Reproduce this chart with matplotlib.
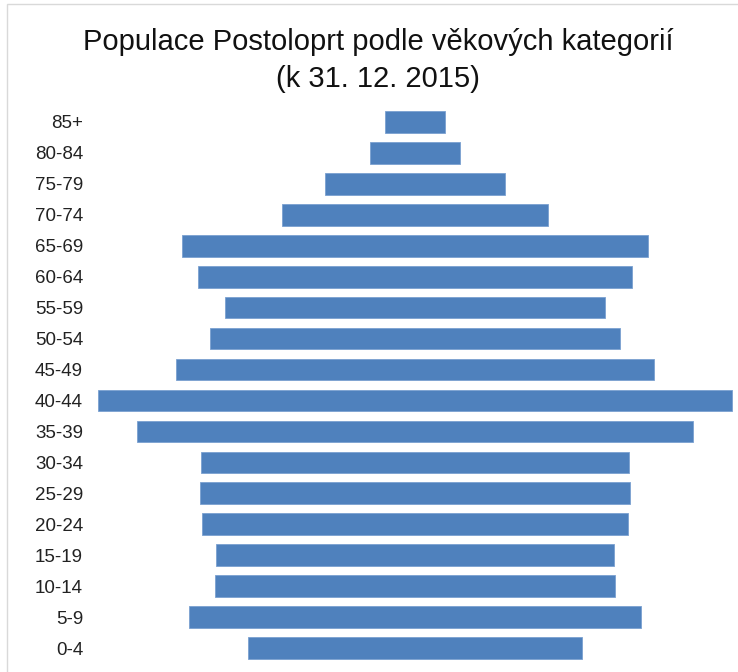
import matplotlib.pyplot as plt
from matplotlib.patches import Rectangle

# age groups bottom -> top, population per group
age_groups = ["0-4", "5-9", "10-14", "15-19", "20-24", "25-29", "30-34", "35-39",
              "40-44", "45-49", "50-54", "55-59", "60-64", "65-69", "70-74",
              "75-79", "80-84", "85+"]
population = [353, 480, 423, 421, 451, 456, 453, 590, 672, 506, 434, 402,
              460, 493, 283, 190, 96, 63]

title_line1 = "Populace Postoloprt podle věkových kategorií"
title_line2 = "(k 31. 12. 2015)"

plt.rcParams['font.family'] = ['Liberation Sans', 'DejaVu Sans']

W, H = 738, 672
fig = plt.figure(figsize=(W / 100, H / 100), dpi=100)

# faint chart border like the Excel chart area
fig.patches.append(Rectangle((7 / W, -0.1), 1.2, 1.1 - 4 / H, transform=fig.transFigure,
                             fill=False, edgecolor='#d9d9d9', linewidth=1))

ax = fig.add_axes([90 / W, 8.5 / H, 650 / W, 557 / H])
y = list(range(len(age_groups)))
lefts = [-v / 2 for v in population]
ax.barh(y, population, left=lefts, height=0.7, color='#4F81BD',
        edgecolor='#7aa0d0', linewidth=0.6)

ax.set_xlim(-344.5, 344.5)
ax.set_ylim(-0.5, len(age_groups) - 0.5)
ax.set_yticks(y)
ax.set_yticklabels(age_groups, fontsize=13.5, color='#222222')
ax.tick_params(axis='y', length=0, pad=5)
ax.set_xticks([])
for s in ax.spines.values():
    s.set_visible(False)

fig.text(378 / W, 1 - 50 / H, title_line1, ha='center', va='baseline', fontsize=21, color='#111111')
fig.text(378 / W, 1 - 87 / H, title_line2, ha='center', va='baseline', fontsize=21, color='#111111')

fig.savefig("out.png", dpi=100)
